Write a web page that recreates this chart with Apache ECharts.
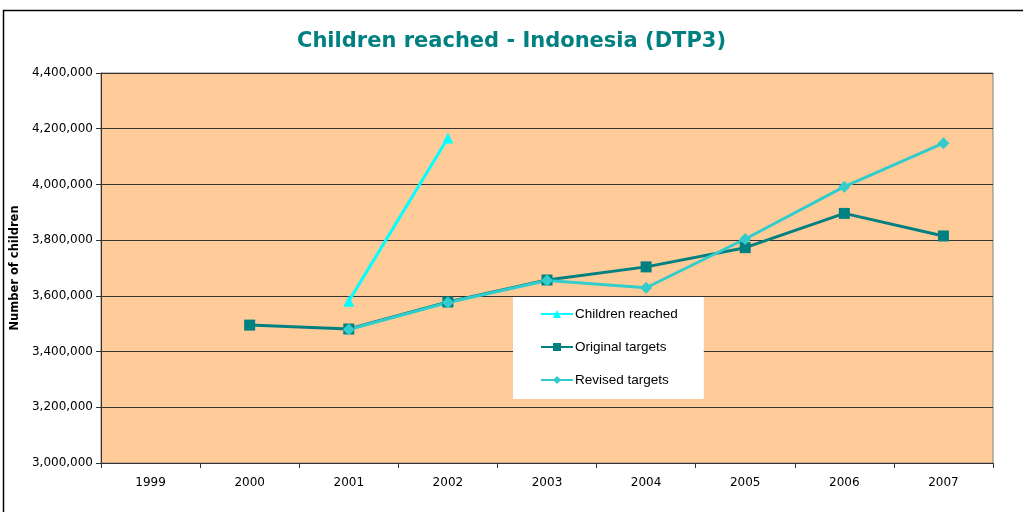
<!DOCTYPE html>
<html>
<head>
<meta charset="utf-8">
<script src="https://cdn.jsdelivr.net/npm/echarts@6/dist/echarts.min.js"></script>
<style>
  html, body { margin: 0; padding: 0; background: #fff; }
  #chart { width: 1023px; height: 512px; }
</style>
</head>
<body>
<div id="chart"></div>
<script>
var years = ['1999', '2000', '2001', '2002', '2003', '2004', '2005', '2006', '2007'];
var childrenReached = [null, null, 3581000, 4167000, null, null, null, null, null];
var originalTargets = [null, 3495000, 3481000, 3578000, 3657000, 3704000, 3773000, 3896000, 3815000];
var revisedTargets = [null, null, 3479000, 3576000, 3655000, 3629000, 3804000, 3992000, 4148000];

var chart = echarts.init(document.getElementById('chart'));

var fmt = function (v) {
  return v.toString().replace(/\B(?=(\d{3})+(?!\d))/g, ',');
};

chart.setOption({
  animation: false,
  backgroundColor: '#ffffff',
  title: {
    text: 'Children reached - Indonesia (DTP3)',
    left: 'center',
    top: 26,
    textStyle: { color: '#008080', fontFamily: 'DejaVu Sans', fontWeight: 'bold', fontSize: 21 }
  },
  graphic: [{
    type: 'rect',
    shape: { x: 3.5, y: 10.5, width: 1030, height: 520 },
    style: { fill: 'none', stroke: '#000', lineWidth: 1.5 },
    silent: true
  }],
  grid: {
    left: 101, right: 30, top: 73, bottom: 49,
    show: true, backgroundColor: '#FFCC99', borderColor: '#808080', borderWidth: 1
  },
  legend: {
    orient: 'vertical',
    left: 513, top: 297,
    backgroundColor: '#ffffff',
    padding: [10, 26, 12, 27],
    itemGap: 19,
    itemWidth: 32, itemHeight: 10,
    textStyle: { fontFamily: 'Arial', fontSize: 13.5, color: '#000', padding: [0, 0, 0, -3] },
    data: ['Children reached', 'Original targets', 'Revised targets']
  },
  xAxis: {
    type: 'category',
    data: years,
    boundaryGap: true,
    axisLine: { lineStyle: { color: '#333', width: 1 } },
    axisTick: { show: true, alignWithLabel: false, length: 5, lineStyle: { color: '#333' } },
    axisLabel: { fontFamily: 'DejaVu Sans', fontSize: 12, color: '#000', margin: 14 }
  },
  yAxis: {
    type: 'value',
    min: 3000000, max: 4400000, interval: 200000,
    name: 'Number of children',
    nameLocation: 'middle',
    nameGap: 78,
    nameTextStyle: { fontFamily: 'DejaVu Sans', fontWeight: 'bold', fontSize: 11.5, color: '#000' },
    axisLine: { show: true, lineStyle: { color: '#333', width: 1 } },
    axisTick: { show: true, length: 5, lineStyle: { color: '#333' } },
    axisLabel: { fontFamily: 'DejaVu Sans', fontSize: 12, color: '#000', margin: 8, formatter: fmt },
    splitLine: { show: true, lineStyle: { color: '#333', width: 1 } }
  },
  series: [
    {
      name: 'Children reached',
      type: 'line',
      data: childrenReached,
      symbol: 'triangle', symbolSize: 11,
      lineStyle: { color: '#00FFFF', width: 3 },
      itemStyle: { color: '#00FFFF' }
    },
    {
      name: 'Original targets',
      type: 'line',
      data: originalTargets,
      symbol: 'rect', symbolSize: 11,
      lineStyle: { color: '#008080', width: 3 },
      itemStyle: { color: '#008080' }
    },
    {
      name: 'Revised targets',
      type: 'line',
      data: revisedTargets,
      symbol: 'diamond', symbolSize: 12,
      lineStyle: { color: '#33CCCC', width: 3 },
      itemStyle: { color: '#33CCCC' }
    }
  ]
});
</script>
</body>
</html>
